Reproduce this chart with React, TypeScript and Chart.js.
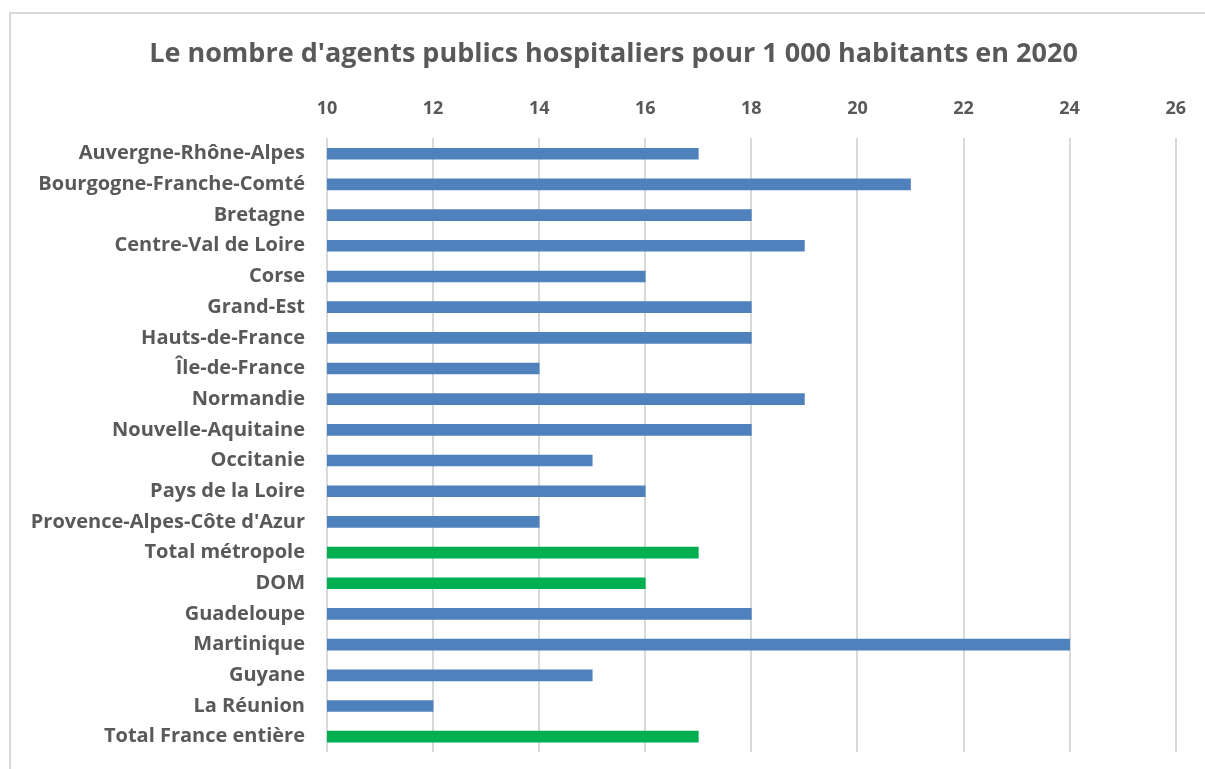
import React, { useEffect, useRef } from "react";
import { Chart, registerables } from "chart.js";

Chart.register(...registerables);

const TITLE = "Le nombre d'agents publics hospitaliers pour 1 000 habitants en 2020";

const regions = [
  "Auvergne-Rhône-Alpes",
  "Bourgogne-Franche-Comté",
  "Bretagne",
  "Centre-Val de Loire",
  "Corse",
  "Grand-Est",
  "Hauts-de-France",
  "Île-de-France",
  "Normandie",
  "Nouvelle-Aquitaine",
  "Occitanie",
  "Pays de la Loire",
  "Provence-Alpes-Côte d'Azur",
  "Total métropole",
  "DOM",
  "Guadeloupe",
  "Martinique",
  "Guyane",
  "La Réunion",
  "Total France entière",
];

const agentsPer1000 = [17, 21, 18, 19, 16, 18, 18, 14, 19, 18, 15, 16, 14, 17, 16, 18, 24, 15, 12, 17];

const totalRows = ["Total métropole", "DOM", "Total France entière"];

const xMin = 10;
const xMax = 26;
const xStep = 2;

const BLUE = "#4f81bd";
const GREEN = "#00b050";
const TEXT = "#595959";
const FONT = "'Open Sans', sans-serif";

export default function App() {
  const ref = useRef<HTMLCanvasElement | null>(null);

  useEffect(() => {
    if (!ref.current) return;
    const colors = regions.map((r) => (totalRows.includes(r) ? GREEN : BLUE));
    const chart = new Chart(ref.current, {
      type: "bar",
      data: {
        labels: regions,
        datasets: [
          {
            data: agentsPer1000,
            backgroundColor: colors,
            borderWidth: 0,
            barThickness: 11,
          },
        ],
      },
      options: {
        indexAxis: "y",
        animation: false,
        responsive: false,
        maintainAspectRatio: false,
        layout: { padding: { left: 22, right: 0, top: 38, bottom: 17 } },
        plugins: {
          legend: { display: false },
          tooltip: { enabled: false },
          title: {
            display: true,
            text: TITLE,
            color: TEXT,
            font: { family: FONT, size: 27, weight: "bold" },
            padding: { top: 0, bottom: 28 },
          },
        },
        scales: {
          x: {
            position: "top",
            min: xMin,
            max: xMax,
            ticks: {
              stepSize: xStep,
              color: TEXT,
              font: { family: FONT, size: 18, weight: "bold" },
              padding: 19,
            },
            grid: {
              color: "#d9d9d9",
              lineWidth: 2,
              drawTicks: false,
            },
            border: { display: false },
            afterFit: (scale: any) => {
              scale.height = 40;
            },
          },
          y: {
            ticks: {
              color: TEXT,
              font: { family: FONT, size: 20, weight: "bold" },
              padding: 22,
              autoSkip: false,
            },
            grid: { display: false, drawTicks: false },
            border: { display: false },
            afterFit: (scale: any) => {
              scale.width = 305;
              scale.paddingTop = 0;
              scale.paddingBottom = 0;
            },
          },
          yRightSpacer: {
            type: "category",
            labels: regions,
            position: "right",
            ticks: { display: false },
            grid: { display: false, drawTicks: false },
            border: { display: false },
            afterFit: (scale: any) => {
              scale.width = 28;
              scale.paddingTop = 0;
              scale.paddingBottom = 0;
            },
          },
        },
      },
    });
    return () => chart.destroy();
  }, []);

  return (
    <div style={{ position: "fixed", left: 0, top: 0, width: 1205, height: 769, background: "#fff" }}>
      <div
        style={{
          position: "absolute",
          left: 9,
          top: 12,
          width: 1220,
          height: 780,
          border: "2px solid #d9d9d9",
          boxSizing: "border-box",
        }}
      />
      <canvas ref={ref} width={1205} height={769} style={{ position: "absolute", left: 0, top: 0 }} />
    </div>
  );
}
